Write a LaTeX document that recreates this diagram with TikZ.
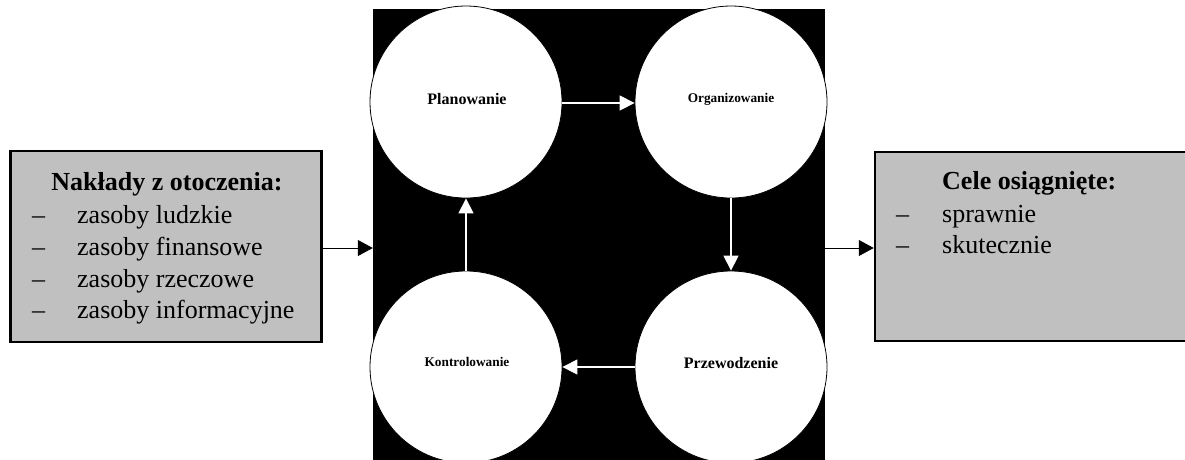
\documentclass[tikz,border=0pt]{standalone}
\usepackage{fontspec}
\setmainfont{Liberation Serif}
\usetikzlibrary{arrows.meta}
\tikzset{
  x=1pt, y=1pt,
  graybox/.style={draw=black, line width=2.5pt, fill=boxgray, rectangle, inner sep=0pt},
  phase/.style={circle, draw=black, line width=0.8pt, fill=white, minimum size=192pt, inner sep=0pt},
  bigtxt/.style={font=\fontsize{26}{31}\selectfont, inner sep=0pt, anchor=base west},
  bigtitle/.style={font=\fontsize{26}{31}\selectfont\bfseries, inner sep=0pt},
  phasebig/.style={font=\fontsize{16}{19}\selectfont\bfseries, inner sep=0pt, anchor=base},
  phasesmall/.style={font=\fontsize{13.3}{16}\selectfont\bfseries, inner sep=0pt, anchor=base},
  whitearrow/.style={draw=white, line width=1.3pt, -{Triangle[length=15pt,width=15pt]}},
  blackarrow/.style={draw=black, line width=1pt, -{Triangle[length=15pt,width=16pt]}}
}
\definecolor{boxgray}{HTML}{C0C0C0}
\begin{document}
\begin{tikzpicture}
\useasboundingbox (0,0) rectangle (1185,-459);
\clip (0,0) rectangle (1185,-459);
% central black field
\node[rectangle, fill=black, minimum width=452pt, minimum height=454pt, inner sep=0pt] (B) at (599,-236) {};
% boxes
\node[graybox, minimum width=311pt, minimum height=191pt] (L) at (166,-246.5) {};
\node[graybox, minimum width=330pt, minimum height=189pt] (R) at (1040,-246.5) {};
% left box text
\node[bigtitle, anchor=base] (Lt) at (167,-190) {Nakłady z otoczenia:};
\node[bigtxt] (Ld1) at (32,-223) {–};
\node[bigtxt] (Li1) at (77,-223) {zasoby ludzkie};
\node[bigtxt] (Ld2) at (32,-255) {–};
\node[bigtxt] (Li2) at (77,-255) {zasoby finansowe};
\node[bigtxt] (Ld3) at (32,-287) {–};
\node[bigtxt] (Li3) at (77,-287) {zasoby rzeczowe};
\node[bigtxt] (Ld4) at (32,-318) {–};
\node[bigtxt] (Li4) at (77,-318) {zasoby informacyjne};
% right box text
\node[bigtitle, anchor=base west] (Rt) at (942,-189) {Cele osiągnięte:};
\node[bigtxt] (Rd1) at (896,-222) {–};
\node[bigtxt] (Ri1) at (942,-222) {sprawnie};
\node[bigtxt] (Rd2) at (896,-253) {–};
\node[bigtxt] (Ri2) at (942,-253) {skutecznie};
% circles
\node[phase] (P) at (466,-102) {};
\node[phase] (O) at (731,-102) {};
\node[phase] (K) at (466,-367) {};
\node[phase] (Z) at (731,-367) {};
\node[phasebig] (Pt) at (467,-104) {Planowanie};
\node[phasesmall] (Ot) at (731,-102) {Organizowanie};
\node[phasesmall] (Kt) at (467,-366) {Kontrolowanie};
\node[phasebig] (Zt) at (731,-368) {Przewodzenie};
% white cycle arrows
\draw[whitearrow] ([yshift=-1pt]P.east) -- ([yshift=-1pt]O.west);
\draw[whitearrow] (O.south) -- (Z.north);
\draw[whitearrow] (Z.west) -- (K.east);
\draw[whitearrow] (K.north) -- (P.south);
% black arrows
\draw[blackarrow] ([yshift=-1.5pt]L.east) -- ([yshift=-1.5pt]B.west |- L.east);
\draw[blackarrow] ([yshift=-1.5pt]B.east |- R.west) -- ([yshift=-1.5pt]R.west);
\end{tikzpicture}
\end{document}
